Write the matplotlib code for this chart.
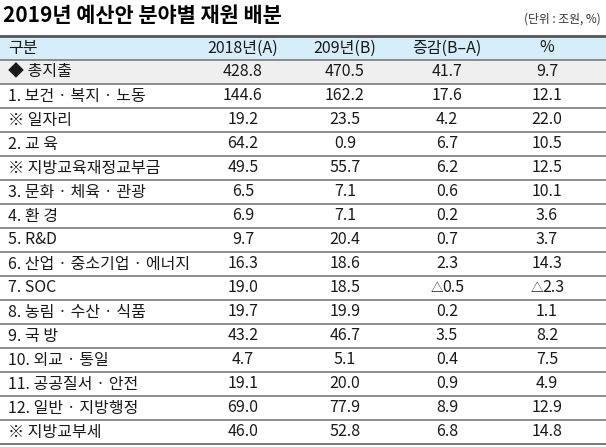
import matplotlib.pyplot as plt

plt.rcParams['font.family'] = ['Noto Sans CJK KR', 'DejaVu Sans']

title = '2019년 예산안 분야별 재원 배분'
unit = '(단위 : 조원, %)'
headers = ['구분', '2018년(A)', '209년(B)', '증감(B–A)', '%']

categories = ['◆ 총지출', '1. 보건 · 복지 · 노동', '※ 일자리', '2. 교 육',
              '※ 지방교육재정교부금', '3. 문화 · 체육 · 관광', '4. 환 경', '5. R&D',
              '6. 산업 · 중소기업 · 에너지', '7. SOC', '8. 농림 · 수산 · 식품',
              '9. 국 방', '10. 외교 · 통일', '11. 공공질서 · 안전',
              '12. 일반 · 지방행정', '※ 지방교부세']
budget_2018 = [428.8, 144.6, 19.2, 64.2, 49.5, 6.5, 6.9, 9.7, 16.3, 19.0, 19.7,
               43.2, 4.7, 19.1, 69.0, 46.0]
budget_2019 = [470.5, 162.2, 23.5, 0.9, 55.7, 7.1, 7.1, 20.4, 18.6, 18.5, 19.9,
               46.7, 5.1, 20.0, 77.9, 52.8]
change = [41.7, 17.6, 4.2, 6.7, 6.2, 0.6, 0.2, 0.7, 2.3, -0.5, 0.2, 3.5, 0.4,
          0.9, 8.9, 6.8]
change_pct = [9.7, 12.1, 22.0, 10.5, 12.5, 10.1, 3.6, 3.7, 14.3, -2.3, 1.1, 8.2,
              7.5, 4.9, 12.9, 14.8]


W, H = 606, 447
fig = plt.figure(figsize=(W / 100, H / 100), dpi=100)
ax = fig.add_axes([0, 0, 1, 1])
ax.set_xlim(0, W)
ax.set_ylim(H, 0)
ax.axis('off')

top = 36
row_h = 24
col_x = [8, 243, 345, 447, 547]
fs = 11.5
txt = dict(fontsize=fs, va='center', color='#1a1a1a', fontweight='light')


def put_value(x, y, v):
    # negative values are written with a small triangle in front
    if v < 0:
        s = '%.1f' % abs(v)
        ax.text(x + 6, y, s, ha='center', **txt)
        ax.text(x + 6 - len(s) * 3.4, y, '△', ha='right',
                fontsize=fs - 2.5, va='center', color='#1a1a1a')
    else:
        ax.text(x, y, '%.1f' % v, ha='center', **txt)


ax.text(3, 15, title, fontsize=15, fontweight='bold', va='center', ha='left')
ax.text(601, 19, unit, fontsize=8.5, va='center', ha='right', color='#333333',
        fontweight='light')

# header band
ax.axhspan(top, top + row_h, color='#d6eef9', lw=0)
ax.axhline(top, color='#555555', lw=2)
for i, h in enumerate(headers):
    ax.text(col_x[i], top + row_h / 2, h, ha='left' if i == 0 else 'center', **txt)

for r, cat in enumerate(categories):
    y0 = top + row_h * (r + 1)
    if r == 0:
        ax.axhspan(y0, y0 + row_h, color='#efefef', lw=0)
    ax.axhline(y0, color='#6f6f6f', lw=1.1)
    yc = y0 + row_h / 2
    ax.text(col_x[0], yc, cat, ha='left', **txt)
    vals = [budget_2018[r], budget_2019[r], change[r], change_pct[r]]
    for j, v in enumerate(vals):
        put_value(col_x[j + 1], yc, v)

ax.axhline(top + row_h * (len(categories) + 1), color='#6f6f6f', lw=1.3)

fig.savefig('out.png', dpi=100)
